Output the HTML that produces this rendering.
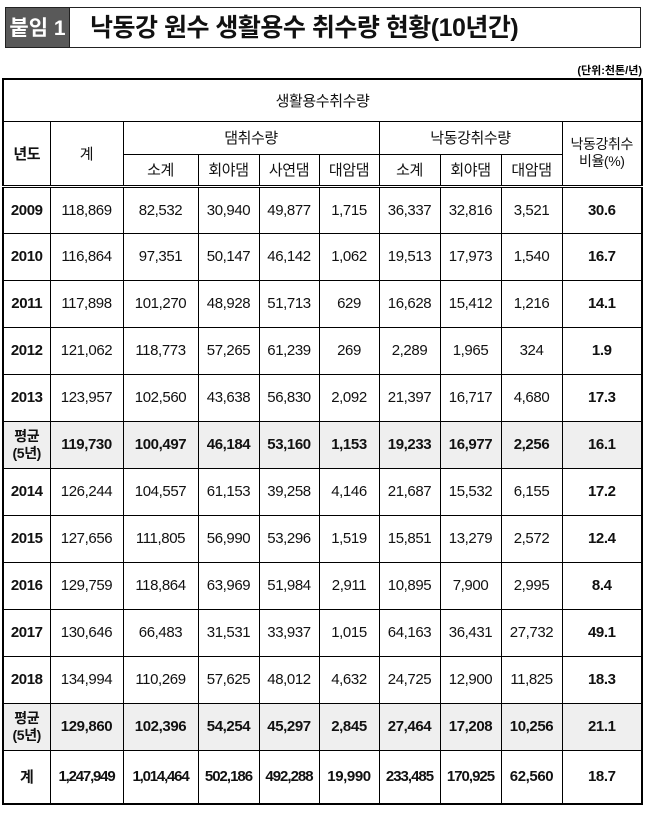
<!DOCTYPE html>
<html><head><meta charset="utf-8"><style>
body{margin:0;width:646px;height:815px;background:#fff;position:relative;font-family:"Liberation Sans","Noto Sans CJK KR","NanumGothic",sans-serif;overflow:hidden}
.tb1{position:absolute;left:5px;top:7px;width:65px;height:41px;background:#595959;color:#fff;font-weight:bold;font-size:21px;line-height:41px;text-align:center;border:1px solid #222;box-sizing:border-box}
.tb2{position:absolute;left:70px;top:7px;width:571px;height:41px;border:1px solid #222;border-left:none;box-sizing:border-box;font-weight:bold;font-size:25px;line-height:40px;padding-left:20px;color:#111;letter-spacing:-0.5px}
.unit{position:absolute;right:4px;top:62px;font-size:11px;font-weight:bold}
table{position:absolute;left:2px;top:78px;border-collapse:collapse;table-layout:fixed;border:2px solid #000}
td{border:1px solid #000;text-align:center;font-size:15px;padding:0;color:#111;white-space:nowrap;letter-spacing:-0.4px}
.b{font-weight:bold}
.g td{background:#efefef;font-weight:bold}
.dbl td{border-top:3px double #000}
.s{font-size:14px;line-height:17px}
</style></head><body>
<div class="tb1">붙임 1</div>
<div class="tb2">낙동강 원수 생활용수 취수량 현황(10년간)</div>
<div class="unit">(단위:천톤/년)</div>
<table>
<colgroup><col style="width:47px"><col style="width:73px"><col style="width:75px"><col style="width:61px"><col style="width:60px"><col style="width:60px"><col style="width:61px"><col style="width:61px"><col style="width:61px"><col style="width:80px"></colgroup>
<tr style="height:42px"><td colspan="10">생활용수취수량</td></tr>
<tr style="height:33px"><td rowspan="2" class="b">년도</td><td rowspan="2">계</td><td colspan="4">댐취수량</td><td colspan="3">낙동강취수량</td><td rowspan="2" class="s">낙동강취수<br>비율(%)</td></tr>
<tr style="height:32px"><td>소계</td><td>회야댐</td><td>사연댐</td><td>대암댐</td><td>소계</td><td>회야댐</td><td>대암댐</td></tr>
<tr class="dbl" style="height:47px"><td class="b">2009</td><td>118,869</td><td>82,532</td><td>30,940</td><td>49,877</td><td>1,715</td><td>36,337</td><td>32,816</td><td>3,521</td><td class="b">30.6</td></tr>
<tr style="height:47px"><td class="b">2010</td><td>116,864</td><td>97,351</td><td>50,147</td><td>46,142</td><td>1,062</td><td>19,513</td><td>17,973</td><td>1,540</td><td class="b">16.7</td></tr>
<tr style="height:47px"><td class="b">2011</td><td>117,898</td><td>101,270</td><td>48,928</td><td>51,713</td><td>629</td><td>16,628</td><td>15,412</td><td>1,216</td><td class="b">14.1</td></tr>
<tr style="height:47px"><td class="b">2012</td><td>121,062</td><td>118,773</td><td>57,265</td><td>61,239</td><td>269</td><td>2,289</td><td>1,965</td><td>324</td><td class="b">1.9</td></tr>
<tr style="height:47px"><td class="b">2013</td><td>123,957</td><td>102,560</td><td>43,638</td><td>56,830</td><td>2,092</td><td>21,397</td><td>16,717</td><td>4,680</td><td class="b">17.3</td></tr>
<tr class="g" style="height:47px"><td class="s">평균<br>(5년)</td><td>119,730</td><td>100,497</td><td>46,184</td><td>53,160</td><td>1,153</td><td>19,233</td><td>16,977</td><td>2,256</td><td>16.1</td></tr>
<tr style="height:47px"><td class="b">2014</td><td>126,244</td><td>104,557</td><td>61,153</td><td>39,258</td><td>4,146</td><td>21,687</td><td>15,532</td><td>6,155</td><td class="b">17.2</td></tr>
<tr style="height:47px"><td class="b">2015</td><td>127,656</td><td>111,805</td><td>56,990</td><td>53,296</td><td>1,519</td><td>15,851</td><td>13,279</td><td>2,572</td><td class="b">12.4</td></tr>
<tr style="height:47px"><td class="b">2016</td><td>129,759</td><td>118,864</td><td>63,969</td><td>51,984</td><td>2,911</td><td>10,895</td><td>7,900</td><td>2,995</td><td class="b">8.4</td></tr>
<tr style="height:47px"><td class="b">2017</td><td>130,646</td><td>66,483</td><td>31,531</td><td>33,937</td><td>1,015</td><td>64,163</td><td>36,431</td><td>27,732</td><td class="b">49.1</td></tr>
<tr style="height:47px"><td class="b">2018</td><td>134,994</td><td>110,269</td><td>57,625</td><td>48,012</td><td>4,632</td><td>24,725</td><td>12,900</td><td>11,825</td><td class="b">18.3</td></tr>
<tr class="g" style="height:47px"><td class="s">평균<br>(5년)</td><td>129,860</td><td>102,396</td><td>54,254</td><td>45,297</td><td>2,845</td><td>27,464</td><td>17,208</td><td>10,256</td><td>21.1</td></tr>
<tr style="height:54px"><td class="b">계</td><td class="b" style="letter-spacing:-1.2px">1,247,949</td><td class="b" style="letter-spacing:-1.2px">1,014,464</td><td class="b" style="letter-spacing:-1px">502,186</td><td class="b" style="letter-spacing:-1px">492,288</td><td class="b">19,990</td><td class="b" style="letter-spacing:-1px">233,485</td><td class="b" style="letter-spacing:-1px">170,925</td><td class="b">62,560</td><td class="b">18.7</td></tr>
</table>
</body></html>
